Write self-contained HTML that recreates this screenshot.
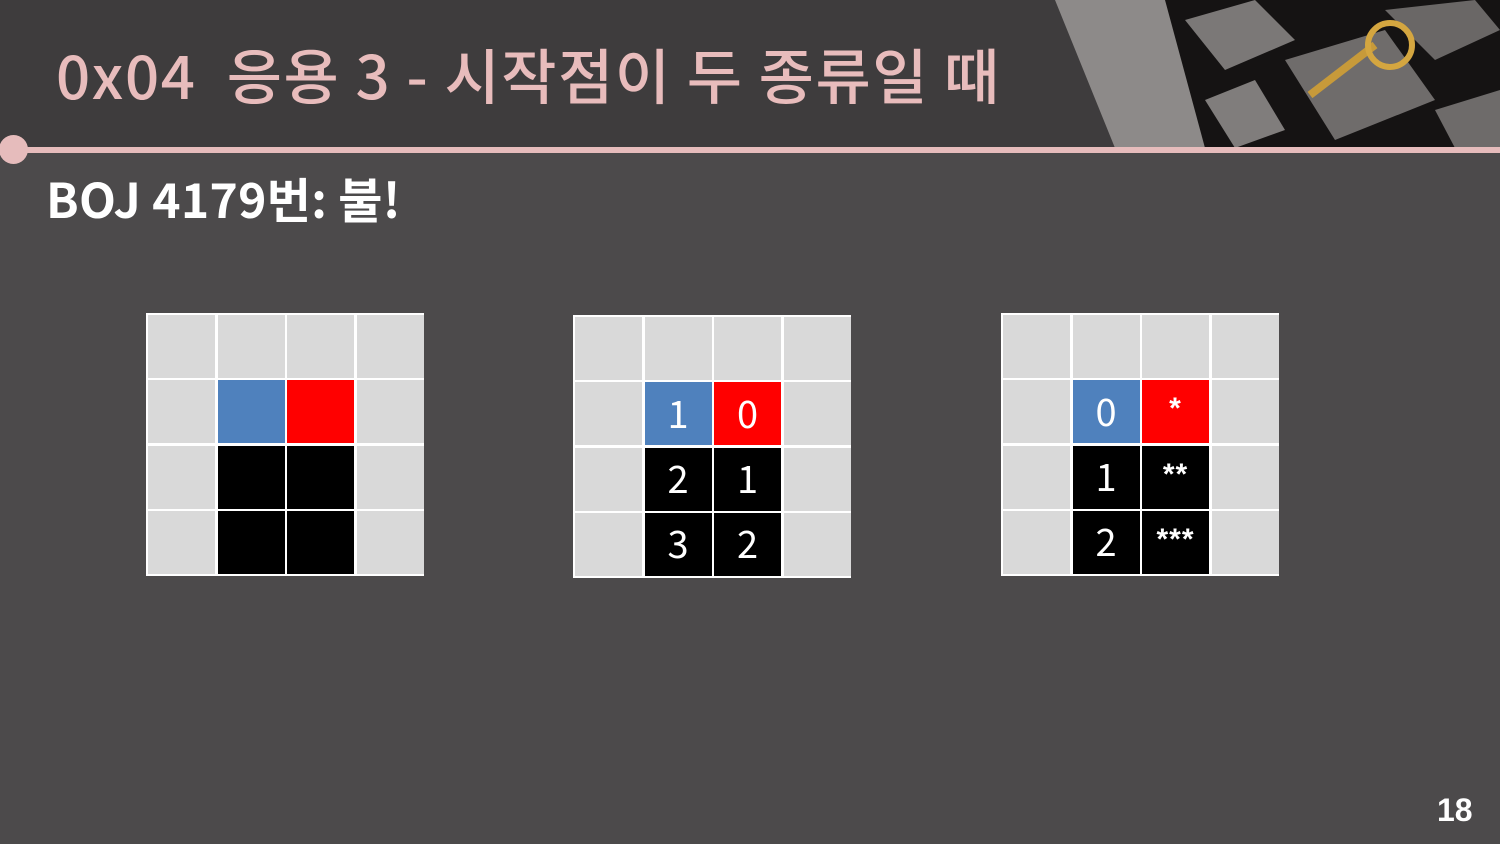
<!DOCTYPE html>
<html><head><meta charset="utf-8"><style>
body{margin:0;width:1500px;height:844px;background:#4c4a4b;position:relative;overflow:hidden;font-family:"Liberation Sans","Noto Sans CJK KR",sans-serif}
.hdr{position:absolute;left:0;top:0;width:1500px;height:148px;background:#3e3c3d}
.title{position:absolute;left:56px;top:30px;font-size:60px;font-weight:500;color:#e8bcbc;white-space:nowrap;font-family:"Noto Sans CJK KR",sans-serif;letter-spacing:1.6px}
.line{position:absolute;left:0;top:147px;width:1500px;height:6px;background:#e6bcbc}
.dot{position:absolute;left:-1px;top:135px;width:29px;height:29px;border-radius:50%;background:#e6bcbc}
.sub{position:absolute;left:46px;top:162px;font-size:48px;font-weight:bold;color:#fff;font-family:"Noto Sans CJK KR",sans-serif;white-space:nowrap;letter-spacing:0.3px}
.grid{position:absolute;width:278px;height:263px;background:#fff}
.c{position:absolute;width:67px;height:63px;background:#d9d9d9;color:#fff;display:flex;align-items:center;justify-content:center;font-size:38px;font-family:"Noto Sans CJK KR",sans-serif;line-height:1}
.pg{position:absolute;left:1437px;top:792px;font-size:32px;color:#fff;font-weight:bold}
</style></head><body>
<div class="hdr"></div>
<svg style="position:absolute;left:1055px;top:0" width="445" height="148">
<polygon points="0,0 445,0 445,148 60,148" fill="#8d8a89"/>
<polygon points="110,0 445,0 445,148 150,148" fill="#151313"/>
<polygon points="130,20 200,0 240,40 170,70" fill="#7b7877"/>
<polygon points="230,60 330,30 380,100 280,140" fill="#6f6c6b"/>
<polygon points="330,10 420,0 445,30 380,60" fill="#6a6766"/>
<polygon points="150,100 200,80 230,130 180,148" fill="#807d7c"/>
<polygon points="380,110 445,90 445,148 400,148" fill="#6e6b6a"/>
<path d="M255,95 L320,45" stroke="#c79a3a" stroke-width="8"/>
<circle cx="335" cy="45" r="22" fill="none" stroke="#d4a640" stroke-width="6"/>
</svg>
<div class="title">0x04&nbsp; 응용 3 - 시작점이 두 종류일 때</div>
<div class="line"></div>
<div class="dot"></div>
<div class="sub">BOJ 4179번: 불!</div>
<div id="g"></div>
<div class="pg">18</div>
<script>
const grids=[
 {x:146,y:313,cells:{"1,1":["#4f81bd",""],"1,2":["#ff0000",""],"2,1":["#000",""],"2,2":["#000",""],"3,1":["#000",""],"3,2":["#000",""]}},
 {x:573,y:315,cells:{"1,1":["#4f81bd","1"],"1,2":["#ff0000","0"],"2,1":["#000","2"],"2,2":["#000","1"],"3,1":["#000","3"],"3,2":["#000","2"]}},
 {x:1001,y:313,cells:{"1,1":["#4f81bd","0"],"1,2":["#ff0000","*"],"2,1":["#000","1"],"2,2":["#000","**"],"3,1":["#000","2"],"3,2":["#000","***"]}}
];
const root=document.getElementById('g');
grids.forEach((gd,gi)=>{
 const g=document.createElement('div');g.className='grid';
 
 
 g.style.left=gd.x+'px';g.style.top=gd.y+'px';
 for(let r=0;r<4;r++)for(let c=0;c<4;c++){
  const d=document.createElement('div');d.className='c';
  
  
  d.style.left=(2+c*69.5)+'px';d.style.top=(2+r*65.3)+'px';
  const v=gd.cells[r+','+c];
  if(v){d.style.background=v[0];d.textContent=v[1];
   if(v[1].includes('*')){d.style.fontSize='30px';d.style.fontWeight='bold';d.style.fontFamily='"Liberation Sans",sans-serif';d.style.alignItems='flex-start';d.style.paddingTop='14px';d.style.height='49px';d.style.letterSpacing='1px';}
   else{d.style.paddingBottom='4px';d.style.height='59px';}}
  g.appendChild(d);
 }
 root.appendChild(g);
});
</script>
</body></html>
